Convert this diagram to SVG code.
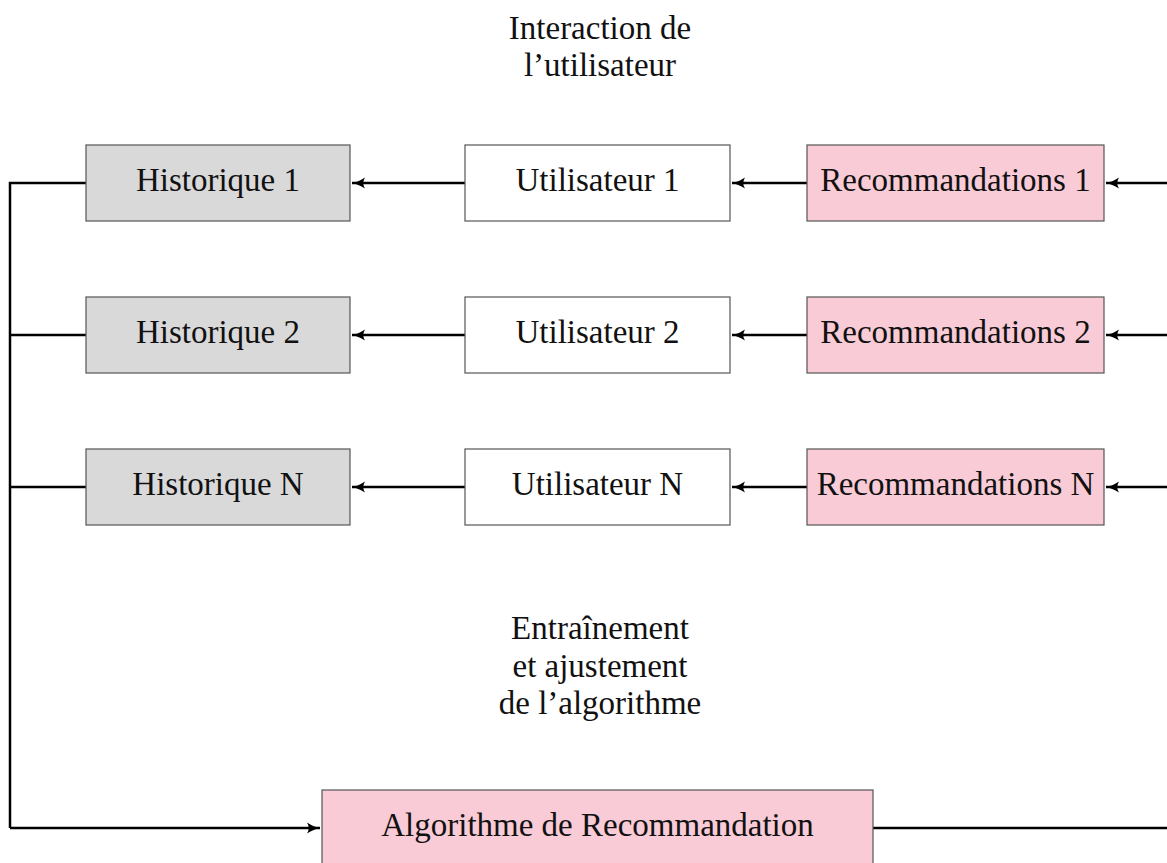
<svg xmlns="http://www.w3.org/2000/svg" width="1167" height="863" viewBox="0 0 1167 863">
  <style>
    .box { stroke: #555; stroke-width: 1.2; }
    .hist { fill: #d9d9d9; }
    .user { fill: #ffffff; }
    .reco { fill: #f9cbd6; }
    .lbl { font-family: "Liberation Serif", "DejaVu Serif", serif; font-size: 33px; fill: #111; text-anchor: middle; }
    .wire { fill: none; stroke: #000; stroke-width: 2.5; }
  </style>
  <defs>
    <marker id="tip" markerWidth="15" markerHeight="13" viewBox="0 0 15 13" refX="13" refY="6.5" orient="auto" markerUnits="userSpaceOnUse">
      <path d="M0,1 Q7,5.5 13,6.5 Q7,7.5 0,12 Q3.5,6.5 0,1 Z" fill="#000"/>
    </marker>
  </defs>

  <rect width="1167" height="863" fill="#fff"/>

  <!-- captions -->
  <text class="lbl" x="600" y="39">Interaction de</text>
  <text class="lbl" x="600" y="76">l’utilisateur</text>
  <text class="lbl" x="600" y="639">Entraînement</text>
  <text class="lbl" x="600" y="677">et ajustement</text>
  <text class="lbl" x="600" y="714">de l’algorithme</text>

  <!-- connectors -->
  <g id="connectors">
    <path class="wire" d="M1167,183 H1106" marker-end="url(#tip)"/>
    <path class="wire" d="M807,183 H732" marker-end="url(#tip)"/>
    <path class="wire" d="M465,183 H352" marker-end="url(#tip)"/>
    <path class="wire" d="M1167,335 H1106" marker-end="url(#tip)"/>
    <path class="wire" d="M807,335 H732" marker-end="url(#tip)"/>
    <path class="wire" d="M465,335 H352" marker-end="url(#tip)"/>
    <path class="wire" d="M1167,487 H1106" marker-end="url(#tip)"/>
    <path class="wire" d="M807,487 H732" marker-end="url(#tip)"/>
    <path class="wire" d="M465,487 H352" marker-end="url(#tip)"/>
    <path class="wire" d="M86,183 H10 V828"/>
    <path class="wire" d="M86,335 H10"/>
    <path class="wire" d="M86,487 H10"/>
    <path class="wire" d="M10,828 H320" marker-end="url(#tip)"/>
    <path class="wire" d="M873,828 H1167"/>
  </g>

  <!-- row 1 -->
  <g id="historique1">
    <rect class="box hist" x="86" y="145" width="264" height="76"/>
    <text class="lbl" x="218" y="191">Historique 1</text>
  </g>
  <g id="utilisateur1">
    <rect class="box user" x="465" y="145" width="265" height="76"/>
    <text class="lbl" x="597.5" y="191">Utilisateur 1</text>
  </g>
  <g id="recommandations1">
    <rect class="box reco" x="807" y="145" width="297" height="76"/>
    <text class="lbl" x="955.5" y="191">Recommandations 1</text>
  </g>

  <!-- row 2 -->
  <g id="historique2">
    <rect class="box hist" x="86" y="297" width="264" height="76"/>
    <text class="lbl" x="218" y="343">Historique 2</text>
  </g>
  <g id="utilisateur2">
    <rect class="box user" x="465" y="297" width="265" height="76"/>
    <text class="lbl" x="597.5" y="343">Utilisateur 2</text>
  </g>
  <g id="recommandations2">
    <rect class="box reco" x="807" y="297" width="297" height="76"/>
    <text class="lbl" x="955.5" y="343">Recommandations 2</text>
  </g>

  <!-- row N -->
  <g id="historiqueN">
    <rect class="box hist" x="86" y="449" width="264" height="76"/>
    <text class="lbl" x="218" y="495">Historique N</text>
  </g>
  <g id="utilisateurN">
    <rect class="box user" x="465" y="449" width="265" height="76"/>
    <text class="lbl" x="597.5" y="495">Utilisateur N</text>
  </g>
  <g id="recommandationsN">
    <rect class="box reco" x="807" y="449" width="297" height="76"/>
    <text class="lbl" x="955.5" y="495">Recommandations N</text>
  </g>

  <!-- algorithm -->
  <g id="algorithme">
    <rect class="box reco" x="322" y="790" width="551" height="78"/>
    <text class="lbl" x="597.5" y="836">Algorithme de Recommandation</text>
  </g>
</svg>
